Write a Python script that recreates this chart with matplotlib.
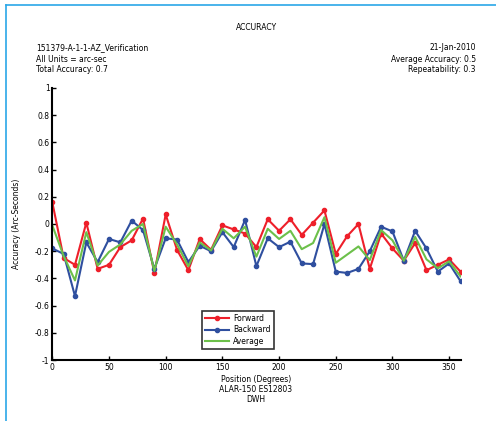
import numpy as np
import matplotlib
matplotlib.use("Agg")
import matplotlib.pyplot as plt
from matplotlib.lines import Line2D

# --- data ---
positions = list(range(0, 361, 10))
forward = [0.16, -0.25, -0.30, 0.01, -0.33, -0.30, -0.17, -0.12, 0.04, -0.36,
           0.07, -0.19, -0.34, -0.11, -0.19, -0.01, -0.04, -0.07, -0.17, 0.035,
           -0.05, 0.035, -0.08, 0.01, 0.10, -0.22, -0.09, 0.00, -0.33, -0.07,
           -0.18, -0.27, -0.14, -0.34, -0.30, -0.26, -0.35]
backward = [-0.18, -0.22, -0.53, -0.135, -0.28, -0.11, -0.135, 0.025, -0.045, -0.33,
            -0.105, -0.115, -0.28, -0.16, -0.20, -0.06, -0.17, 0.03, -0.31, -0.105,
            -0.17, -0.13, -0.29, -0.295, 0.00, -0.35, -0.36, -0.33, -0.20, -0.02,
            -0.055, -0.27, -0.05, -0.18, -0.35, -0.29, -0.42]
average = [-0.01, -0.235, -0.415, -0.06, -0.305, -0.205, -0.15, -0.05, 0.0, -0.345,
           -0.02, -0.15, -0.31, -0.135, -0.195, -0.035, -0.105, -0.02, -0.24, -0.035,
           -0.11, -0.05, -0.185, -0.14, 0.05, -0.285, -0.225, -0.165, -0.265, -0.045,
           -0.12, -0.27, -0.095, -0.26, -0.325, -0.275, -0.385]

yticks = [-1, -0.8, -0.6, -0.4, -0.2, 0, 0.2, 0.4, 0.6, 0.8, 1]
ytick_labels = ["-1", "-0.8", "-0.6", "-0.4", "-0.2", "0", "0.2", "0.4", "0.6", "0.8", "1"]
xticks = [0, 50, 100, 150, 200, 250, 300, 350]

W, H = 496, 421
fs = 5.5
RED, BLUE, GREEN = "#ee1f2a", "#2f4f9f", "#6cc04a"

fig = plt.figure(figsize=(W / 100, H / 100), dpi=100)
fig.patch.set_facecolor("white")
ax = fig.add_axes([52.3 / W, 1 - 360 / H, (460.5 - 52.3) / W, (360 - 88) / H])

ax.plot(positions, forward, color=RED, lw=1.5, marker="o", ms=3, label="Forward")
ax.plot(positions, backward, color=BLUE, lw=1.5, marker="o", ms=3, label="Backward")
ax.plot(positions, average, color=GREEN, lw=1.5, label="Average")

ax.set_xlim(0, 360)
ax.set_ylim(-1, 1)
ax.set_xticks(xticks)
ax.set_yticks(yticks)
ax.set_yticklabels(ytick_labels)
ax.tick_params(direction="in", length=3, width=1, labelsize=fs, pad=2)
for s in ["top", "right"]:
    ax.spines[s].set_visible(False)
for s in ["left", "bottom"]:
    ax.spines[s].set_linewidth(1.5)

ax.set_ylabel("Accuracy (Arc-Seconds)", fontsize=fs, labelpad=10)

leg = ax.legend(loc="lower left", bbox_to_anchor=((198 - 52.3) / (460.5 - 52.3), (360 - 353) / 272),
                fontsize=fs, frameon=True, fancybox=False, handlelength=3.2,
                borderpad=0.4, labelspacing=0.35, handletextpad=0.5)
leg.get_frame().set_edgecolor("black")
leg.get_frame().set_linewidth(1.2)

# header / footer text
def fy(py):
    return 1 - py / H

fig.text(256 / W, fy(27), "ACCURACY", ha="center", va="center", fontsize=fs)
for i, t in enumerate(["151379-A-1-1-AZ_Verification", "All Units = arc-sec", "Total Accuracy: 0.7"]):
    fig.text(36 / W, fy(48 + 11 * i), t, ha="left", va="center", fontsize=fs)
for i, t in enumerate(["21-Jan-2010", "Average Accuracy: 0.5", "Repeatability: 0.3"]):
    fig.text(476 / W, fy(48 + 11 * i), t, ha="right", va="center", fontsize=fs)
for i, t in enumerate(["Position (Degrees)", "ALAR-150 ES12803", "DWH"]):
    fig.text(256 / W, fy(380 + 9.5 * i), t, ha="center", va="center", fontsize=fs)

# light blue page frame
fig.add_artist(Line2D([6 / W, 6 / W], [fy(5), 0], color="#2aa7e8", lw=1.2))
fig.add_artist(Line2D([6 / W, 1], [fy(5), fy(5)], color="#2aa7e8", lw=1.2))

fig.savefig("out.png", dpi=100)
